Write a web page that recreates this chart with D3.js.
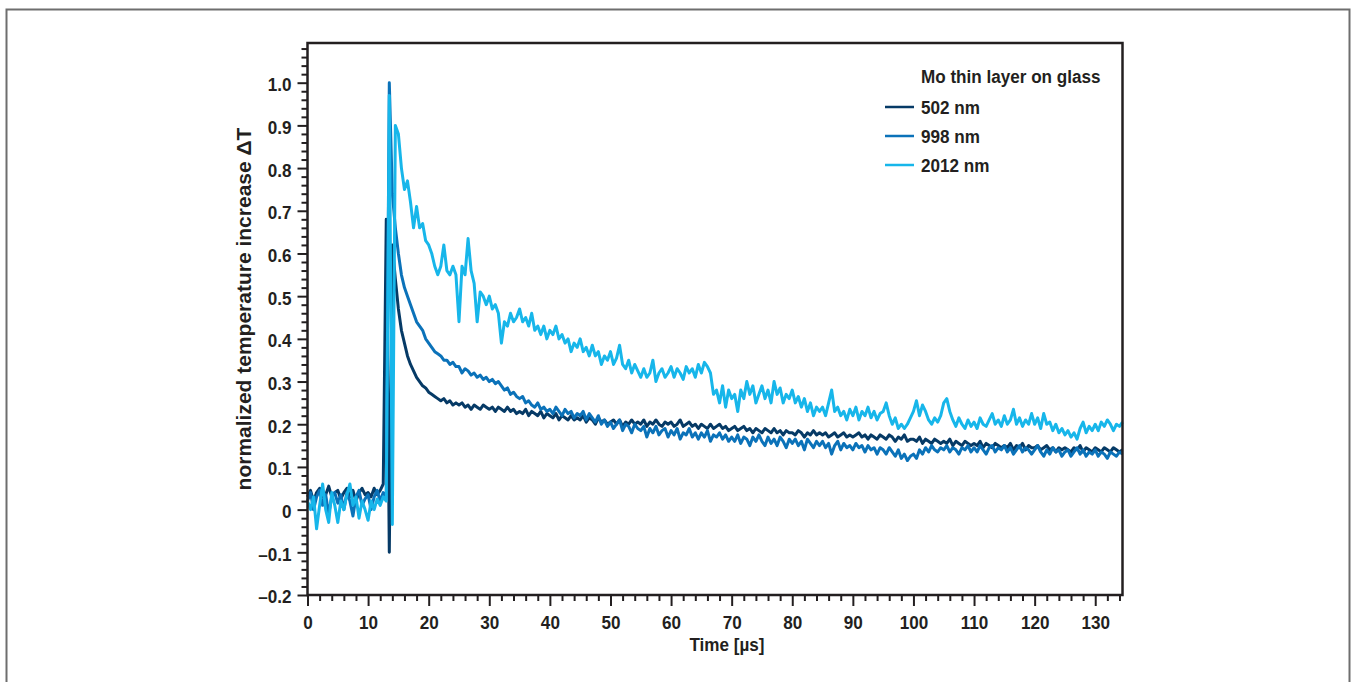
<!DOCTYPE html>
<html>
<head>
<meta charset="utf-8">
<script src="https://cdn.jsdelivr.net/npm/d3@7"></script>
<style>
  html, body { margin: 0; padding: 0; background: #fff; }
  svg { display: block; }
  text { font-family: "Liberation Sans", Arial, sans-serif; font-weight: bold; fill: #231f20; }
</style>
</head>
<body>
<svg id="chart" width="1357" height="682"></svg>
<script>
// Sampling interval of the recorded transients (µs)
const sampleStep = 0.5;

// Layer thicknesses shown in the legend
const seriesNames = ["502 nm", "998 nm", "2012 nm"];
const seriesColors = ["#063a66", "#0b72b9", "#17b6ea"];

// Normalized ΔT, one value per 0.5 µs from 0 to 134.5 µs
const values502 = [
  0.03,0.045,0.02,0.04,0.05,0.03,0.035,0.055,0.03,0.04,
  0.045,0.025,0.04,0.05,0.03,0.045,0.02,0.04,0.05,0.035,
  0.04,0.03,0.05,0.035,0.045,0.06,0.68,-0.10,0.62,0.54,
  0.47,0.42,0.39,0.36,0.34,0.325,0.31,0.30,0.29,0.285,
  0.275,0.27,0.265,0.26,0.255,0.26,0.25,0.255,0.245,0.25,
  0.245,0.25,0.24,0.245,0.235,0.245,0.24,0.235,0.245,0.24,
  0.235,0.24,0.23,0.24,0.235,0.23,0.24,0.23,0.235,0.225,
  0.23,0.225,0.235,0.22,0.23,0.225,0.22,0.23,0.215,0.225,
  0.22,0.215,0.225,0.21,0.22,0.215,0.21,0.22,0.21,0.215,
  0.21,0.22,0.205,0.215,0.21,0.2,0.215,0.205,0.21,0.2,
  0.205,0.21,0.2,0.21,0.195,0.205,0.2,0.21,0.2,0.205,
  0.2,0.21,0.195,0.205,0.2,0.21,0.2,0.195,0.205,0.2,
  0.205,0.195,0.2,0.21,0.195,0.2,0.205,0.195,0.2,0.19,
  0.2,0.195,0.19,0.2,0.19,0.195,0.2,0.19,0.195,0.185,
  0.19,0.195,0.185,0.19,0.195,0.185,0.19,0.18,0.19,0.185,
  0.18,0.19,0.185,0.18,0.19,0.18,0.185,0.175,0.185,0.18,
  0.18,0.175,0.185,0.18,0.17,0.18,0.175,0.185,0.175,0.18,
  0.175,0.18,0.17,0.175,0.18,0.17,0.175,0.18,0.17,0.175,
  0.17,0.175,0.18,0.17,0.175,0.165,0.175,0.17,0.165,0.175,
  0.17,0.165,0.175,0.17,0.16,0.17,0.165,0.175,0.16,0.165,
  0.165,0.16,0.17,0.155,0.165,0.16,0.155,0.165,0.16,0.155,
  0.16,0.155,0.165,0.15,0.16,0.155,0.15,0.16,0.155,0.15,
  0.155,0.15,0.16,0.145,0.155,0.15,0.145,0.155,0.15,0.145,
  0.15,0.145,0.155,0.14,0.15,0.145,0.155,0.14,0.15,0.145,
  0.145,0.15,0.14,0.145,0.15,0.14,0.145,0.135,0.145,0.14,
  0.145,0.14,0.135,0.145,0.14,0.15,0.135,0.145,0.14,0.135,
  0.145,0.14,0.135,0.145,0.14,0.135,0.145,0.14,0.135,0.14
];

const values998 = [
  0.02,0.04,0.0,0.03,0.045,0.01,0.035,-0.01,0.03,0.04,
  0.015,0.035,0.0,0.04,0.02,-0.015,0.03,0.045,0.01,0.025,
  0.035,0.0,0.03,0.045,0.02,0.04,0.03,1.00,0.74,0.66,
  0.60,0.55,0.52,0.50,0.48,0.46,0.44,0.43,0.42,0.40,
  0.39,0.38,0.37,0.365,0.36,0.35,0.35,0.34,0.345,0.335,
  0.335,0.32,0.33,0.325,0.315,0.32,0.31,0.315,0.305,0.31,
  0.30,0.305,0.295,0.30,0.29,0.28,0.285,0.27,0.275,0.265,
  0.26,0.265,0.25,0.255,0.245,0.24,0.25,0.235,0.24,0.23,
  0.235,0.225,0.24,0.23,0.22,0.235,0.225,0.23,0.215,0.225,
  0.22,0.23,0.21,0.225,0.215,0.205,0.22,0.2,0.21,0.195,
  0.205,0.19,0.2,0.21,0.185,0.2,0.195,0.18,0.2,0.19,
  0.185,0.195,0.17,0.19,0.18,0.195,0.175,0.185,0.19,0.17,
  0.185,0.175,0.19,0.165,0.18,0.175,0.19,0.17,0.18,0.165,
  0.18,0.17,0.185,0.16,0.175,0.17,0.18,0.165,0.175,0.16,
  0.17,0.16,0.175,0.155,0.17,0.165,0.15,0.17,0.16,0.175,
  0.16,0.15,0.17,0.155,0.165,0.15,0.17,0.16,0.145,0.165,
  0.155,0.165,0.15,0.16,0.14,0.165,0.155,0.145,0.16,0.15,
  0.16,0.145,0.155,0.13,0.15,0.16,0.14,0.155,0.145,0.15,
  0.14,0.155,0.145,0.15,0.135,0.15,0.14,0.145,0.13,0.145,
  0.14,0.13,0.145,0.135,0.125,0.14,0.12,0.13,0.115,0.125,
  0.13,0.12,0.14,0.13,0.145,0.135,0.15,0.14,0.135,0.145,
  0.14,0.15,0.135,0.145,0.14,0.13,0.145,0.14,0.15,0.135,
  0.145,0.135,0.15,0.14,0.13,0.145,0.15,0.135,0.145,0.14,
  0.15,0.135,0.145,0.13,0.14,0.15,0.135,0.145,0.14,0.13,
  0.14,0.15,0.135,0.125,0.14,0.13,0.145,0.135,0.14,0.125,
  0.135,0.14,0.125,0.135,0.145,0.13,0.14,0.125,0.135,0.13,
  0.14,0.125,0.135,0.13,0.12,0.135,0.13,0.125,0.135,0.13
];

const values2012 = [
  0.02,0.0,0.03,-0.045,0.01,0.06,0.0,-0.03,0.04,0.01,
  -0.03,0.02,0.0,0.035,0.06,0.01,0.03,-0.02,0.02,0.0,
  -0.025,0.02,0.0,0.025,0.01,0.03,0.02,0.97,-0.035,0.90,
  0.88,0.80,0.75,0.77,0.72,0.66,0.71,0.66,0.67,0.63,
  0.62,0.60,0.57,0.55,0.57,0.62,0.56,0.55,0.57,0.55,
  0.44,0.57,0.55,0.635,0.56,0.53,0.44,0.51,0.50,0.48,
  0.50,0.47,0.48,0.46,0.39,0.44,0.43,0.46,0.44,0.45,
  0.47,0.44,0.45,0.43,0.46,0.42,0.43,0.41,0.43,0.40,
  0.42,0.41,0.43,0.40,0.41,0.39,0.40,0.37,0.39,0.38,
  0.40,0.37,0.38,0.36,0.385,0.36,0.37,0.34,0.36,0.35,
  0.37,0.34,0.355,0.385,0.34,0.33,0.35,0.32,0.34,0.325,
  0.31,0.33,0.31,0.32,0.35,0.30,0.32,0.33,0.31,0.32,
  0.335,0.31,0.33,0.32,0.305,0.335,0.32,0.33,0.31,0.34,
  0.32,0.345,0.335,0.32,0.27,0.28,0.25,0.29,0.24,0.28,
  0.26,0.27,0.23,0.28,0.26,0.30,0.27,0.29,0.25,0.27,
  0.29,0.26,0.28,0.25,0.30,0.27,0.285,0.25,0.27,0.26,
  0.28,0.25,0.265,0.24,0.26,0.23,0.25,0.22,0.24,0.23,
  0.24,0.22,0.25,0.28,0.23,0.24,0.22,0.23,0.21,0.235,
  0.22,0.24,0.21,0.23,0.22,0.24,0.215,0.23,0.21,0.225,
  0.23,0.25,0.22,0.20,0.215,0.19,0.2,0.19,0.2,0.215,
  0.23,0.255,0.22,0.245,0.23,0.21,0.2,0.215,0.205,0.22,
  0.25,0.26,0.23,0.21,0.195,0.215,0.2,0.19,0.21,0.195,
  0.205,0.19,0.215,0.2,0.195,0.21,0.225,0.2,0.21,0.195,
  0.22,0.2,0.21,0.235,0.2,0.215,0.195,0.21,0.2,0.225,
  0.2,0.215,0.19,0.225,0.2,0.205,0.185,0.2,0.18,0.19,
  0.175,0.185,0.17,0.18,0.165,0.19,0.205,0.18,0.195,0.185,
  0.2,0.185,0.205,0.195,0.21,0.2,0.185,0.2,0.195,0.205
];

const seriesValues = [values502, values998, values2012];

// Axis ticks and labels
const xMajorTicks = [0,10,20,30,40,50,60,70,80,90,100,110,120,130];
const yMajorTicks = [-0.2,-0.1,0,0.1,0.2,0.3,0.4,0.5,0.6,0.7,0.8,0.9,1.0];
const yTickLabels = ["\u20130.2","\u20130.1","0","0.1","0.2","0.3","0.4","0.5","0.6","0.7","0.8","0.9","1.0"];
const xTitle = "Time [\u00b5s]";
const yTitle = "normalized temperature increase \u0394T";
const legendTitle = "Mo thin layer on glass";

const svg = d3.select("#chart");
const ink = "#231f20";
const fontSize = 19;
const squeeze = 0.9;   // horizontal compression for the condensed lettering

// Places a condensed text at (tx, ty)
function condensed(sel, tx, ty) {
  return sel.attr("x", null).attr("y", null)
    .attr("transform", `translate(${tx},${ty}) scale(${squeeze},1)`);
}

// Outer panel border
svg.append("rect")
  .attr("x", 6.5).attr("y", 9.5)
  .attr("width", 1343).attr("height", 720)
  .attr("fill", "none").attr("stroke", "#6e6e6e").attr("stroke-width", 2);

const plot = { left: 307.5, right: 1122.5, top: 43, bottom: 595 };

const x = d3.scaleLinear().domain([0, 134.5]).range([plot.left, plot.right]);
const y = d3.scaleLinear().domain([-0.2, 1.093]).range([plot.bottom, plot.top]);

// Data traces
const line = d3.line()
  .x((d, i) => x(i * sampleStep))
  .y(d => y(d));

const traces = svg.append("g").attr("class", "traces");
seriesValues.forEach((vals, k) => {
  traces.append("path")
    .datum(vals)
    .attr("d", line)
    .attr("fill", "none")
    .attr("stroke", seriesColors[k])
    .attr("stroke-width", 3)
    .attr("stroke-linejoin", "round");
});

// Left axis: major + minor ticks
const yMinor = d3.range(-0.2, 1.0901, 0.02).map(v => +v.toFixed(2))
  .filter(v => !yMajorTicks.some(m => Math.abs(m - v) < 1e-6));
const yAxisMajor = d3.axisLeft(y).tickValues(yMajorTicks).tickSize(10)
  .tickFormat((d, i) => yTickLabels[i]);
const yAxisMinor = d3.axisLeft(y).tickValues(yMinor).tickSize(6).tickFormat("");

const gYMinor = svg.append("g").attr("transform", `translate(${plot.left},0)`).call(yAxisMinor);
const gY = svg.append("g").attr("transform", `translate(${plot.left},0)`).call(yAxisMajor);

// Bottom axis
const xMinor = d3.range(0, 134.01, 2).filter(v => v % 10 !== 0);
const xAxisMajor = d3.axisBottom(x).tickValues(xMajorTicks).tickSize(11)
  .tickFormat(d3.format("d"));
const xAxisMinor = d3.axisBottom(x).tickValues(xMinor).tickSize(6).tickFormat("");

const gXMinor = svg.append("g").attr("transform", `translate(0,${plot.bottom})`).call(xAxisMinor);
const gX = svg.append("g").attr("transform", `translate(0,${plot.bottom})`).call(xAxisMajor);

[gY, gYMinor, gX, gXMinor].forEach(g => {
  g.select(".domain").remove();
  g.selectAll(".tick line").attr("stroke", ink).attr("stroke-width", 2);
  g.selectAll(".tick text").attr("font-size", fontSize).attr("fill", ink)
    .attr("font-family", null);
});
condensed(gY.selectAll(".tick text"), -16, 0).attr("dy", "0.42em");
condensed(gX.selectAll(".tick text"), 0, 20).attr("dy", "0.71em");

// Frame around the plot area
svg.append("rect")
  .attr("x", plot.left).attr("y", plot.top)
  .attr("width", plot.right - plot.left).attr("height", plot.bottom - plot.top)
  .attr("fill", "none").attr("stroke", ink).attr("stroke-width", 2.5);

// Axis titles
condensed(svg.append("text"), 727, 651)
  .attr("text-anchor", "middle").attr("font-size", fontSize)
  .text(xTitle);

svg.append("text")
  .attr("transform", "translate(251,309) rotate(-90)")
  .attr("text-anchor", "middle").attr("font-size", 21)
  .text(yTitle);

// Legend
const legend = svg.append("g");
condensed(legend.append("text"), 921, 83).attr("font-size", fontSize).text(legendTitle);
seriesNames.forEach((name, k) => {
  const ly = 107 + k * 29;
  legend.append("line")
    .attr("x1", 885).attr("x2", 914).attr("y1", ly).attr("y2", ly)
    .attr("stroke", seriesColors[k]).attr("stroke-width", 2.5);
  condensed(legend.append("text"), 921, ly + 6.5).attr("font-size", fontSize).text(name);
});
</script>
</body>
</html>
